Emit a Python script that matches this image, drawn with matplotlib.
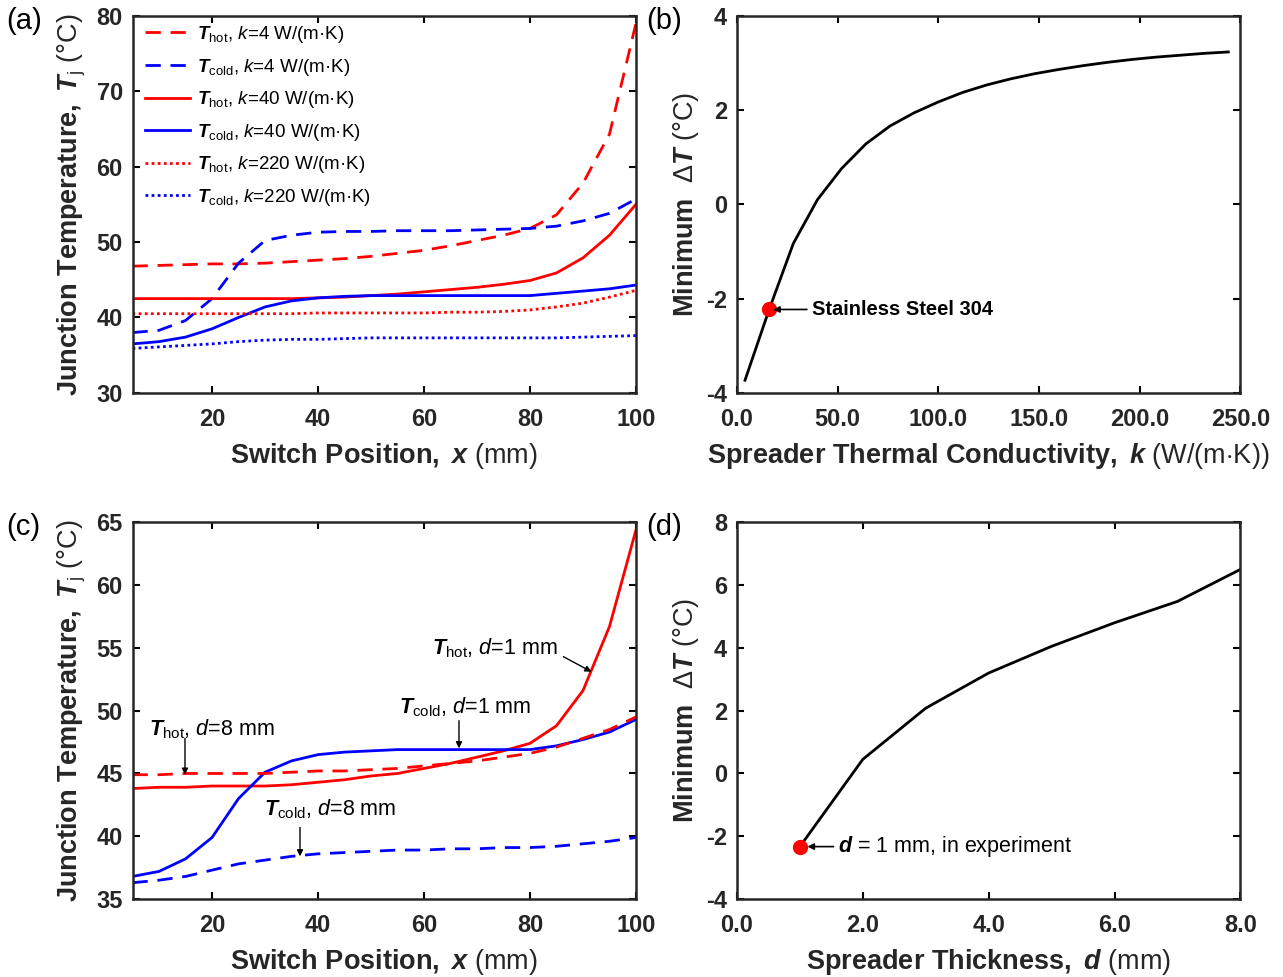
import numpy as np
import matplotlib
matplotlib.use("Agg")
import matplotlib.pyplot as plt
from matplotlib.ticker import FormatStrFormatter

# --- Fontes / estilo ---
plt.rcParams['font.family'] = ['Liberation Sans', 'DejaVu Sans']
plt.rcParams['mathtext.fontset'] = 'custom'
plt.rcParams['mathtext.rm'] = 'Liberation Sans'
plt.rcParams['mathtext.it'] = 'Liberation Sans:italic'
plt.rcParams['mathtext.bf'] = 'Liberation Sans:bold'
plt.rcParams['mathtext.bfit'] = 'Liberation Sans:italic:bold'
plt.rcParams['mathtext.sf'] = 'Liberation Sans'
plt.rcParams['axes.unicode_minus'] = False

# --- Dados (a): k variando ---
x_pos = [5, 10, 15, 20, 25, 30, 35, 40, 45, 50, 55, 60, 65, 70, 75, 80, 85, 90, 95, 100]
hot_k4 = [46.8, 46.9, 47.0, 47.1, 47.1, 47.2, 47.4, 47.6, 47.8, 48.1, 48.5, 48.9, 49.5, 50.2, 50.9, 51.8, 53.6, 57.8, 64.3, 79.0]
cold_k4 = [38.0, 38.3, 39.6, 42.5, 47.2, 50.2, 50.9, 51.3, 51.4, 51.4, 51.5, 51.5, 51.5, 51.6, 51.7, 51.8, 52.1, 52.8, 53.8, 55.7]
hot_k40 = [42.5, 42.5, 42.5, 42.5, 42.5, 42.5, 42.5, 42.6, 42.7, 42.9, 43.1, 43.4, 43.7, 44.0, 44.4, 44.9, 45.9, 47.9, 50.9, 55.0]
cold_k40 = [36.5, 36.8, 37.4, 38.5, 40.0, 41.4, 42.2, 42.6, 42.8, 42.9, 42.9, 42.9, 42.9, 42.9, 42.9, 42.9, 43.2, 43.5, 43.8, 44.3]
hot_k220 = [40.5, 40.5, 40.5, 40.5, 40.5, 40.5, 40.5, 40.6, 40.6, 40.6, 40.6, 40.6, 40.7, 40.7, 40.8, 41.0, 41.4, 41.9, 42.7, 43.6]
cold_k220 = [35.9, 36.1, 36.3, 36.5, 36.8, 37.0, 37.1, 37.1, 37.2, 37.3, 37.3, 37.3, 37.3, 37.3, 37.3, 37.3, 37.3, 37.4, 37.5, 37.6]

# --- Dados (b): delta T minimo vs k ---
k_vals = [4, 16, 28, 40, 52, 64, 76, 88, 100, 112, 124, 136, 148, 160, 172, 184, 196, 208, 220, 232, 244]
dT_k = [-3.73, -2.23, -0.83, 0.10, 0.76, 1.28, 1.66, 1.94, 2.17, 2.37, 2.53, 2.66, 2.77, 2.86, 2.94, 3.01, 3.07, 3.12, 3.16, 3.20, 3.23]
k_steel = 16
dT_steel = -2.23

# --- Dados (c): espessura d ---
hot_d1 = [43.8, 43.9, 43.9, 44.0, 44.0, 44.0, 44.1, 44.3, 44.5, 44.8, 45.0, 45.4, 45.8, 46.3, 46.8, 47.4, 48.8, 51.6, 56.7, 64.4]
cold_d1 = [36.8, 37.2, 38.2, 39.9, 43.0, 45.1, 46.0, 46.5, 46.7, 46.8, 46.9, 46.9, 46.9, 46.9, 46.9, 46.9, 47.2, 47.7, 48.3, 49.3]
hot_d8 = [44.9, 44.9, 45.0, 45.0, 45.0, 45.0, 45.1, 45.2, 45.2, 45.3, 45.4, 45.6, 45.8, 46.0, 46.3, 46.6, 47.1, 47.8, 48.5, 49.5]
cold_d8 = [36.3, 36.5, 36.8, 37.3, 37.8, 38.1, 38.4, 38.6, 38.7, 38.8, 38.9, 38.9, 39.0, 39.0, 39.1, 39.1, 39.2, 39.4, 39.6, 39.9]

# --- Dados (d): delta T minimo vs d ---
d_vals = [1, 2, 3, 4, 5, 6, 7, 8]
dT_d = [-2.33, 0.45, 2.08, 3.20, 4.05, 4.80, 5.48, 6.50]

RED = '#ff0000'
BLUE = '#0000ff'
LW = 2.0
TICK_FS = 17
LAB_FS = 19.5
ANN_FS = 15.5


def style_axes(ax):
    ax.tick_params(direction='in', top=True, right=True, length=5, width=1.5,
                   labelsize=TICK_FS)
    ax.tick_params(axis='x', pad=11)
    ax.tick_params(axis='y', pad=7)
    for lab in ax.get_xticklabels() + ax.get_yticklabels():
        lab.set_fontweight('bold')
        lab.set_color('#262626')
    for s in ax.spines.values():
        s.set_linewidth(1.8)
        s.set_color('#262626')


fig = plt.figure(figsize=(12.83, 9.77), dpi=100)
ax_a = fig.add_axes([0.1033, 0.5978, 0.3924, 0.3862])
ax_b = fig.add_axes([0.5744, 0.5978, 0.3924, 0.3862])
ax_c = fig.add_axes([0.1033, 0.0798, 0.3924, 0.3856])
ax_d = fig.add_axes([0.5744, 0.0798, 0.3924, 0.3856])

ylab_T = r'$\mathbf{Junction\ Temperature,}\ \mathbfit{T}_{\mathrm{j}}\ \mathrm{(°C)}$'
xlab_x = r'$\mathbf{Switch\ Position,}\ \mathbfit{x}\ \mathrm{(mm)}$'
ylab_dT = r'$\mathbf{Minimum}\ \ \mathrm{\Delta}\mathbfit{T}\ \mathrm{(°C)}$'

# --- (a) ---
ax_a.plot(x_pos, hot_k4, '--', color=RED, lw=LW, dashes=(5.5, 3.5),
          label=r'$\mathbfit{T}_{\mathrm{hot}}$, $\mathit{k}$=4 W/(m·K)')
ax_a.plot(x_pos, cold_k4, '--', color=BLUE, lw=LW, dashes=(5.5, 3.5),
          label=r'$\mathbfit{T}_{\mathrm{cold}}$, $\mathit{k}$=4 W/(m·K)')
ax_a.plot(x_pos, hot_k40, '-', color=RED, lw=LW,
          label=r'$\mathbfit{T}_{\mathrm{hot}}$, $\mathit{k}$=40 W/(m·K)')
ax_a.plot(x_pos, cold_k40, '-', color=BLUE, lw=LW,
          label=r'$\mathbfit{T}_{\mathrm{cold}}$, $\mathit{k}$=40 W/(m·K)')
ax_a.plot(x_pos, hot_k220, ':', color=RED, lw=LW, dashes=(1, 1.2),
          label=r'$\mathbfit{T}_{\mathrm{hot}}$, $\mathit{k}$=220 W/(m·K)')
ax_a.plot(x_pos, cold_k220, ':', color=BLUE, lw=LW, dashes=(1, 1.2),
          label=r'$\mathbfit{T}_{\mathrm{cold}}$, $\mathit{k}$=220 W/(m·K)')
ax_a.set_xlim(5, 100)
ax_a.set_ylim(30, 80)
ax_a.set_xticks([20, 40, 60, 80, 100])
ax_a.set_yticks([30, 40, 50, 60, 70, 80])
ax_a.set_xlabel(xlab_x, fontsize=LAB_FS, color='#262626', labelpad=7)
ax_a.set_ylabel(ylab_T, fontsize=LAB_FS, color='#262626', labelpad=6)
ax_a.legend(loc='upper left', frameon=False, fontsize=13.5, handlelength=2.4,
            labelspacing=0.62, borderaxespad=0.0, handletextpad=0.35,
            bbox_to_anchor=(0.01, 0.998))
style_axes(ax_a)

# --- (b) ---
ax_b.plot(k_vals, dT_k, 'k-', lw=LW)
ax_b.plot([k_steel], [dT_steel], 'o', color=RED, ms=10)
ax_b.annotate('Stainless Steel 304', xy=(k_steel + 2, dT_steel), xytext=(37.5, dT_steel),
              fontsize=ANN_FS - 1, fontweight='bold', va='center', ha='left',
              arrowprops=dict(arrowstyle='-|>', color='k', lw=1.2, mutation_scale=9,
                              shrinkA=2, shrinkB=0))
ax_b.set_xlim(0, 250)
ax_b.set_ylim(-4, 4)
ax_b.set_xticks([0, 50, 100, 150, 200, 250])
ax_b.set_yticks([-4, -2, 0, 2, 4])
ax_b.xaxis.set_major_formatter(FormatStrFormatter('%.1f'))
ax_b.set_xlabel(r'$\mathbf{Spreader\ Thermal\ Conductivity,}\ \mathbfit{k}\ \mathrm{(W/(m{\cdot}K))}$',
                fontsize=LAB_FS, color='#262626', labelpad=7)
ax_b.set_ylabel(ylab_dT, fontsize=LAB_FS, color='#262626', labelpad=4)
style_axes(ax_b)

# --- (c) ---
ax_c.plot(x_pos, hot_d1, '-', color=RED, lw=LW)
ax_c.plot(x_pos, cold_d1, '-', color=BLUE, lw=LW)
ax_c.plot(x_pos, hot_d8, '--', color=RED, lw=LW, dashes=(5.5, 3.5))
ax_c.plot(x_pos, cold_d8, '--', color=BLUE, lw=LW, dashes=(5.5, 3.5))
arr = dict(arrowstyle='-|>', color='k', lw=1.0, mutation_scale=9, shrinkA=0, shrinkB=0)
ax_c.annotate(r'$\mathbfit{T}_{\mathrm{hot}}$, $\mathit{d}$=1 mm', xy=(91.6, 53.1),
              xytext=(61.5, 54.0), fontsize=ANN_FS, va='bottom', ha='left')
ax_c.annotate('', xy=(91.6, 53.1), xytext=(86.3, 54.3), arrowprops=arr)
ax_c.annotate(r'$\mathbfit{T}_{\mathrm{cold}}$, $\mathit{d}$=1 mm', xy=(66.6, 47.0),
              xytext=(55.2, 49.3), fontsize=ANN_FS, va='bottom', ha='left')
ax_c.annotate('', xy=(66.6, 47.0), xytext=(66.6, 49.2), arrowprops=arr)
ax_c.annotate(r'$\mathbfit{T}_{\mathrm{hot}}$, $\mathit{d}$=8 mm', xy=(14.9, 44.9),
              xytext=(8.2, 47.6), fontsize=ANN_FS, va='bottom', ha='left')
ax_c.annotate('', xy=(14.9, 44.9), xytext=(14.9, 47.8), arrowprops=arr)
ax_c.annotate(r'$\mathbfit{T}_{\mathrm{cold}}$, $\mathit{d}$=8 mm', xy=(36.6, 38.4),
              xytext=(29.8, 41.2), fontsize=ANN_FS, va='bottom', ha='left')
ax_c.annotate('', xy=(36.6, 38.4), xytext=(36.6, 40.7), arrowprops=arr)
ax_c.set_xlim(5, 100)
ax_c.set_ylim(35, 65)
ax_c.set_xticks([20, 40, 60, 80, 100])
ax_c.set_yticks([35, 40, 45, 50, 55, 60, 65])
ax_c.set_xlabel(xlab_x, fontsize=LAB_FS, color='#262626', labelpad=7)
ax_c.set_ylabel(ylab_T, fontsize=LAB_FS, color='#262626', labelpad=6)
style_axes(ax_c)

# --- (d) ---
ax_d.plot(d_vals, dT_d, 'k-', lw=LW)
ax_d.plot([d_vals[0]], [dT_d[0]], 'o', color=RED, ms=10)
ax_d.annotate(r'$\mathbfit{d}$ = 1 mm, in experiment', xy=(d_vals[0] + 0.12, dT_d[0]),
              xytext=(1.6, dT_d[0]), fontsize=ANN_FS, va='center', ha='left',
              arrowprops=dict(arrowstyle='-|>', color='k', lw=1.2, mutation_scale=9,
                              shrinkA=1, shrinkB=0))
ax_d.set_xlim(0, 8)
ax_d.set_ylim(-4, 8)
ax_d.set_xticks([0, 2, 4, 6, 8])
ax_d.set_yticks([-4, -2, 0, 2, 4, 6, 8])
ax_d.xaxis.set_major_formatter(FormatStrFormatter('%.1f'))
ax_d.set_xlabel(r'$\mathbf{Spreader\ Thickness,}\ \mathbfit{d}\ \mathrm{(mm)}$',
                fontsize=LAB_FS, color='#262626', labelpad=7)
ax_d.set_ylabel(ylab_dT, fontsize=LAB_FS, color='#262626', labelpad=4)
style_axes(ax_d)

# --- rotulos dos paineis ---
for lbl, (px, py) in zip(['(a)', '(b)', '(c)', '(d)'],
                         [(0.005, 0.978), (0.504, 0.978), (0.005, 0.461), (0.504, 0.461)]):
    fig.text(px, py, lbl, fontsize=21, va='center', ha='left')

fig.savefig('out.png', dpi=100)
